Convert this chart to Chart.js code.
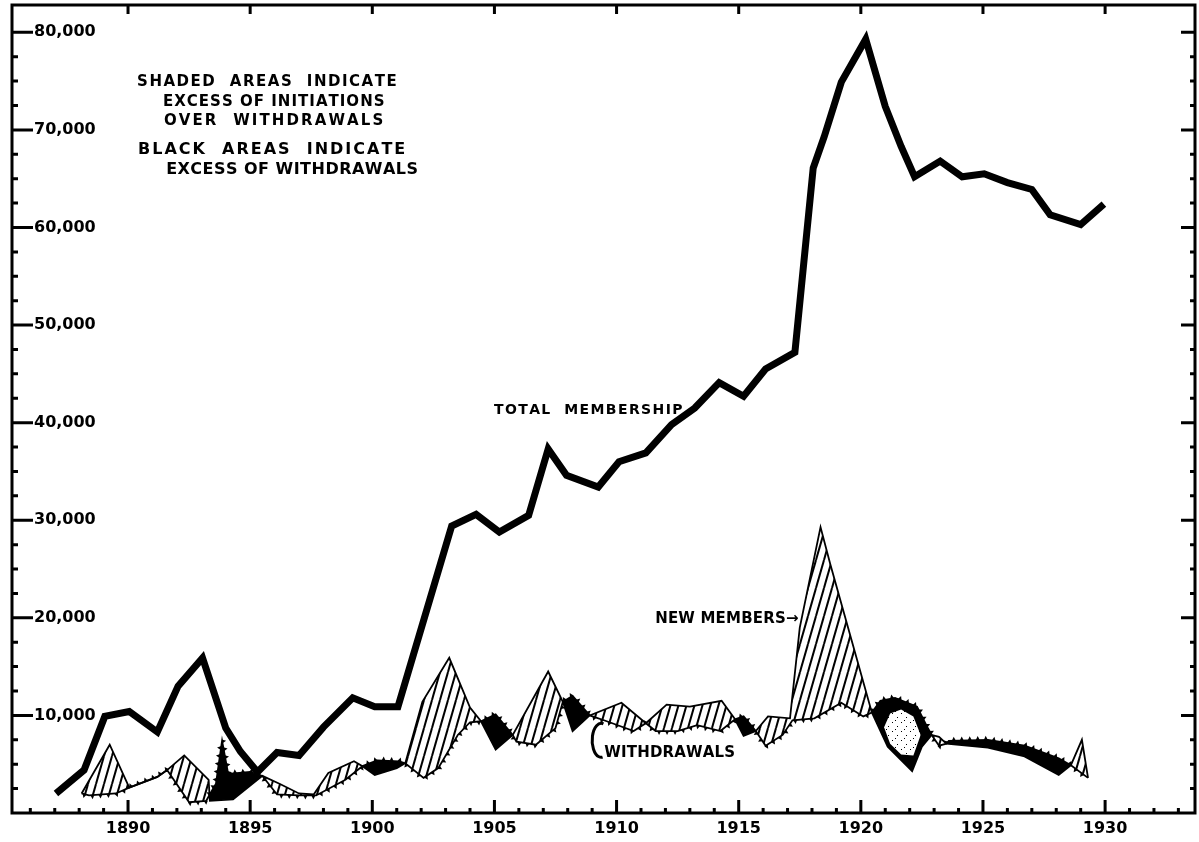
<!DOCTYPE html>
<html>
<head>
<meta charset="utf-8">
<script src="https://cdn.jsdelivr.net/npm/chart.js@4.4.1/dist/chart.umd.min.js"></script>
<style>
  html, body { margin: 0; padding: 0; background: #fff; }
  #wrap { width: 1199px; height: 842px; position: relative; }
</style>
</head>
<body>
<div id="wrap"><canvas id="myChart"></canvas></div>
<script>
// total membership (years are where the corners were drawn)
const memberYears = [1887.05, 1888.2, 1889.05, 1890.05, 1891.2, 1892.05, 1893.05, 1894.0, 1894.6, 1895.3,
    1896.1, 1897.0, 1898.0, 1899.2, 1900.1, 1901.05, 1903.25, 1904.25, 1905.2, 1906.4,
    1907.2, 1907.95, 1909.25, 1910.1, 1911.2, 1912.25, 1913.2, 1914.2, 1915.2, 1916.1,
    1917.3, 1918.05, 1918.5, 1919.2, 1920.2, 1921.0, 1921.65, 1922.2, 1923.25, 1924.15,
    1925.05, 1926.0, 1927.0, 1927.75, 1929.0, 1929.95];
const memberValues = [2000, 4400, 9900, 10400, 8300, 13000, 15900, 8700, 6300, 4200,
    6200, 5900, 8800, 11800, 10900, 10900, 29400, 30600, 28800, 30500,
    37300, 34600, 33400, 36000, 36900, 39800, 41500, 44100, 42700, 45500,
    47200, 66100, 69300, 74900, 79300, 72400, 68300, 65200, 66800, 65200,
    65500, 64600, 63900, 61300, 60300, 62400];

// new members (initiations)
const newYears = [1888.1, 1889.25, 1890.05, 1891.2, 1891.6, 1892.3, 1893.3, 1893.35, 1894.3, 1895.5,
    1896.2, 1897.0, 1897.6, 1898.2, 1899.25, 1899.6, 1900.1, 1901.0, 1901.35, 1902.05,
    1903.15, 1904.0, 1904.45, 1905.05, 1905.75, 1907.2, 1907.8, 1908.2, 1908.9, 1910.2,
    1911.2, 1912.05, 1913.0, 1914.3, 1914.85, 1915.2, 1915.7, 1916.2, 1917.1, 1917.5,
    1918.35, 1918.75, 1920.45, 1921.1, 1922.1, 1922.5, 1922.9, 1923.2, 1923.5, 1925.2,
    1926.7, 1928.1, 1928.6, 1929.05, 1929.3];
const newValues = [2000, 7000, 2600, 3700, 4400, 5900, 3400, 1250, 1400, 3800,
    3000, 2000, 1900, 4100, 5300, 4800, 3900, 4600, 5100, 11400,
    15900, 10800, 9400, 6500, 8000, 14500, 11400, 8400, 10000, 11300,
    9200, 11100, 10900, 11500, 9600, 7900, 8400, 9900, 9700, 19000,
    29300, 25500, 10300, 6800, 4300, 6800, 8000, 7800, 7100, 6700,
    5800, 3900, 4900, 7500, 3600];

// withdrawals
const withdrawYears = [1888.1, 1888.4, 1889.5, 1890.05, 1891.2, 1891.6, 1892.5, 1893.2, 1893.6, 1893.85,
    1894.1, 1895.0, 1895.5, 1896.1, 1897.0, 1897.7, 1898.9, 1899.6, 1900.2, 1901.1,
    1901.35, 1902.1, 1902.7, 1903.5, 1904.0, 1904.45, 1905.05, 1905.75, 1905.9, 1906.7,
    1907.5, 1907.8, 1908.2, 1908.9, 1909.6, 1910.7, 1911.2, 1911.6, 1912.5, 1913.3,
    1914.25, 1914.85, 1915.2, 1915.7, 1916.1, 1916.8, 1917.2, 1918.1, 1919.2, 1920.1,
    1920.45, 1920.8, 1921.4, 1922.3, 1922.7, 1922.9, 1923.2, 1923.5, 1923.6, 1925.2,
    1926.7, 1928.1, 1928.6, 1929.3];
const withdrawValues = [2000, 1800, 2000, 2600, 3700, 4400, 1100, 1250, 3000, 7400,
    4000, 4200, 3800, 1900, 1800, 1800, 3400, 4800, 5400, 5300,
    5100, 3600, 4600, 8000, 9300, 9400, 10100, 8000, 7300, 7000,
    8700, 11400, 12000, 10000, 9400, 8400, 9200, 8400, 8400, 9000,
    8400, 9600, 9900, 8400, 6900, 8000, 9500, 9700, 11300, 9900,
    10300, 11500, 11800, 10900, 8900, 8000, 6900, 7100, 7400, 7500,
    6900, 5600, 4900, 3600];

// light speckled patch inside the 1921-22 black ring
const blobYears = [1920.95, 1921.2, 1921.65, 1922.15, 1922.45];
const blobTop = [8800, 10200, 10600, 9900, 8000];
const blobBottom = [8800, 7100, 6000, 5900, 8000];

const yearLabels = [1890, 1895, 1900, 1905, 1910, 1915, 1920, 1925, 1930];
const valueLabels = [10000, 20000, 30000, 40000, 50000, 60000, 70000, 80000];

// hand lettering on the sheet (x in years, y in members)
const notes = [
    {text: 'SHADED  AREAS  INDICATE', from: 1890.37, to: 1901.0, at: 75100, size: 15},
    {text: 'EXCESS OF INITIATIONS', from: 1891.43, to: 1900.5, at: 73050, size: 15},
    {text: 'OVER  WITHDRAWALS', from: 1891.47, to: 1900.45, at: 71100, size: 15},
    {text: 'BLACK  AREAS  INDICATE', from: 1890.41, to: 1901.35, at: 68150, size: 16},
    {text: 'EXCESS OF WITHDRAWALS', from: 1891.56, to: 1901.87, at: 66100, size: 16},
    {text: 'TOTAL  MEMBERSHIP', from: 1904.98, to: 1912.7, at: 41400, size: 14},
    {text: 'NEW MEMBERS\u2192', from: 1911.58, to: 1917.45, at: 20050, size: 15},
    {text: 'WITHDRAWALS', from: 1909.5, to: 1914.85, at: 6350, size: 15}
];

function toPoints(xs, ys){
    return xs.map((x, i) => ({x: x, y: ys[i]}));
}

const canvas = document.getElementById('myChart');
const ctx = canvas.getContext('2d');

function makeHatch(){
    const c = document.createElement('canvas');
    c.width = 8; c.height = 28;
    const g = c.getContext('2d');
    g.strokeStyle = '#000';
    g.lineWidth = 2;
    for(let x0 = -8; x0 <= 8; x0 += 8){
        g.beginPath();
        g.moveTo(x0, 28);
        g.lineTo(x0 + 8, 0);
        g.stroke();
    }
    return ctx.createPattern(c, 'repeat');
}

function makeStipple(){
    const c = document.createElement('canvas');
    c.width = 9; c.height = 9;
    const g = c.getContext('2d');
    g.fillStyle = '#fff';
    g.fillRect(0, 0, 9, 9);
    g.fillStyle = '#000';
    g.fillRect(1, 2, 1, 1);
    g.fillRect(6, 6, 1, 1);
    g.fillRect(4, 0, 1, 1);
    return ctx.createPattern(c, 'repeat');
}

function yAtX(pts, px){
    for(let i = 1; i < pts.length; i++){
        if(px >= pts[i-1].x && px <= pts[i].x){
            const t = (px - pts[i-1].x) / ((pts[i].x - pts[i-1].x) || 1);
            return pts[i-1].y + t * (pts[i].y - pts[i-1].y);
        }
    }
    return null;
}

// border box with inward tick marks on all four sides
const framePlugin = {
    id: 'frame',
    afterDraw(chart){
        const {ctx, chartArea: a, scales: {x, y}} = chart;
        ctx.save();
        ctx.strokeStyle = '#000';
        ctx.lineWidth = 3;
        ctx.strokeRect(a.left, a.top, a.right - a.left, a.bottom - a.top);
        ctx.beginPath();
        for(let yr = 1886; yr <= 1933; yr++){
            const px = x.getPixelForValue(yr);
            const major = yr % 5 === 0;
            ctx.moveTo(px, a.bottom);
            ctx.lineTo(px, a.bottom - (major ? 13 : 5));
            if(major){
                ctx.moveTo(px, a.top);
                ctx.lineTo(px, a.top + 9);
            }
        }
        for(let v = 2500; v <= 80000; v += 2500){
            const py = y.getPixelForValue(v);
            const major = v % 10000 === 0;
            ctx.moveTo(a.left, py);
            ctx.lineTo(a.left + (major ? 21 : 6), py);
            ctx.moveTo(a.right, py);
            ctx.lineTo(a.right - (major ? 14 : 5), py);
        }
        ctx.stroke();
        ctx.restore();
    }
};

// little barbs along the withdrawals line, on the side away from new members
const barbPlugin = {
    id: 'barbs',
    afterDatasetDraw(chart, args){
        if(args.index !== 2) return;
        const w = chart.getDatasetMeta(2).data;
        const n = chart.getDatasetMeta(1).data;
        const c = chart.ctx;
        c.save();
        c.fillStyle = '#000';
        let carry = 3;
        for(let i = 1; i < w.length; i++){
            const x0 = w[i-1].x, y0 = w[i-1].y, x1 = w[i].x, y1 = w[i].y;
            const len = Math.hypot(x1 - x0, y1 - y0);
            if(!len) continue;
            const ux = (x1 - x0) / len, uy = (y1 - y0) / len;
            let d = carry;
            while(d < len){
                const px = x0 + ux * d, py = y0 + uy * d;
                const ny = yAtX(n, px);
                const down = ny === null || ny < py - 0.5;
                let nx = -uy, nyv = ux;
                if((nyv > 0) !== down){ nx = -nx; nyv = -nyv; }
                c.beginPath();
                c.moveTo(px - ux * 2, py - uy * 2);
                c.lineTo(px + ux * 2, py + uy * 2);
                c.lineTo(px + nx * 4, py + nyv * 4);
                c.closePath();
                c.fill();
                d += 8;
            }
            carry = d - len;
        }
        c.restore();
    }
};

function drawFitted(c, text, left, right, midY, size){
    const chars = [...text];
    c.font = 'bold ' + size + 'px "DejaVu Sans"';
    let natural = 0;
    chars.forEach(ch => natural += c.measureText(ch).width);
    const target = right - left;
    let gap = (target - natural) / (chars.length - 1);
    if(gap < 0){
        size = size * target / natural;
        c.font = 'bold ' + size + 'px "DejaVu Sans"';
        gap = 0;
    }
    const base = midY + size * 0.365;
    let cx = left;
    chars.forEach(ch => {
        c.fillText(ch, cx, base);
        cx += c.measureText(ch).width + gap;
    });
}

const notesPlugin = {
    id: 'notes',
    afterDraw(chart){
        const {ctx: c, scales: {x, y}} = chart;
        c.save();
        c.fillStyle = '#000';
        c.textBaseline = 'alphabetic';
        c.textAlign = 'left';
        notes.forEach(n => {
            drawFitted(c, n.text, x.getPixelForValue(n.from), x.getPixelForValue(n.to), y.getPixelForValue(n.at), n.size);
        });
        // the hooked "C" tying the word to the withdrawals line
        c.strokeStyle = '#000';
        c.lineWidth = 3;
        c.beginPath();
        c.ellipse(x.getPixelForValue(1909.37), y.getPixelForValue(7450), 9, 17, 0, -Math.PI * 0.42, Math.PI * 0.45, true);
        c.stroke();
        c.restore();
    }
};

Chart.defaults.font.family = '"DejaVu Sans"';

const hatch = makeHatch();
const stipple = makeStipple();

window.myChart = new Chart(ctx, {
    type: 'line',
    data: {
        datasets: [{
            label: 'Total membership',
            data: toPoints(memberYears, memberValues),
            borderColor: '#000',
            borderWidth: 7,
            pointRadius: 0,
            fill: false,
            order: 0
        }, {
            label: 'New members',
            data: toPoints(newYears, newValues),
            borderColor: '#000',
            borderWidth: 1.8,
            pointRadius: 0,
            fill: {target: 2, above: hatch, below: '#000'},
            order: 3
        }, {
            label: 'Withdrawals',
            data: toPoints(withdrawYears, withdrawValues),
            borderColor: '#000',
            borderWidth: 1.8,
            pointRadius: 0,
            fill: false,
            order: 2
        }, {
            label: 'blob top',
            data: toPoints(blobYears, blobTop),
            borderColor: 'rgba(0,0,0,0)',
            borderWidth: 0,
            pointRadius: 0,
            fill: {target: 4, above: stipple, below: stipple},
            order: 1
        }, {
            label: 'blob bottom',
            data: toPoints(blobYears, blobBottom),
            borderColor: 'rgba(0,0,0,0)',
            borderWidth: 0,
            pointRadius: 0,
            fill: false,
            order: 1
        }]
    },
    options: {
        responsive: true,
        maintainAspectRatio: false,
        animation: false,
        layout: {padding: {left: 0, right: 4, top: 5, bottom: 0}},
        plugins: {
            legend: {display: false},
            tooltip: {enabled: false}
        },
        scales: {
            x: {
                type: 'linear',
                min: 1885.25,
                max: 1933.68,
                grid: {display: false, drawTicks: false},
                border: {display: false},
                afterBuildTicks: s => { s.ticks = yearLabels.map(v => ({value: v})); },
                afterFit: s => { s.height = 29; s.paddingLeft = 0; s.paddingRight = 0; },
                ticks: {
                    autoSkip: false,
                    maxRotation: 0,
                    padding: 6,
                    color: '#000',
                    font: {family: '"DejaVu Sans"', weight: 'bold', size: 16},
                    callback: v => String(v)
                }
            },
            y: {
                min: 0,
                max: 82800,
                grid: {display: false, drawTicks: false},
                border: {display: false},
                afterBuildTicks: s => { s.ticks = valueLabels.map(v => ({value: v})); },
                afterFit: s => { s.width = 12; s.paddingTop = 0; s.paddingBottom = 0; },
                ticks: {
                    mirror: true,
                    padding: 22,
                    color: '#000',
                    font: {family: '"DejaVu Sans"', weight: 'bold', size: 16},
                    callback: v => v.toLocaleString('en-US')
                }
            }
        }
    },
    plugins: [framePlugin, barbPlugin, notesPlugin]
});
</script>
</body>
</html>
